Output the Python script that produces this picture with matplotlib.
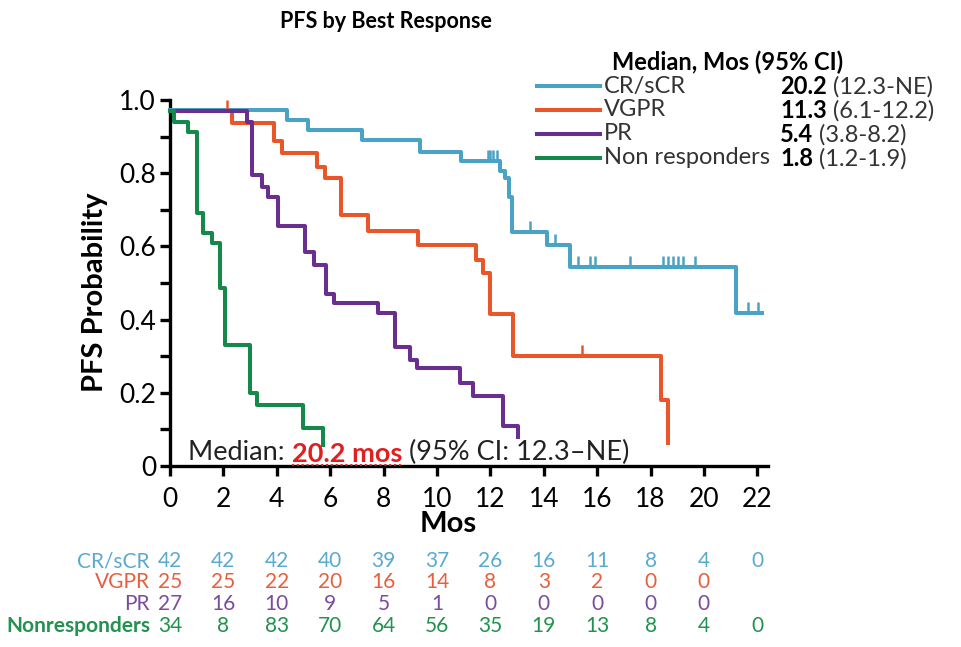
import numpy as np
import matplotlib
matplotlib.use("Agg")
import matplotlib.pyplot as plt
from matplotlib.lines import Line2D
from matplotlib.markers import TICKUP
from matplotlib import transforms

plt.rcParams["font.family"] = ["Lato", "DejaVu Sans"]

# KM curves (time in months, PFS probability)
cr_times = [0, 4.37, 5.18, 7.18, 9.36, 10.9, 12.36, 12.55, 12.68, 12.8, 14.13, 14.98, 21.22, 22.16]
cr_surv = [0.973, 0.945, 0.918, 0.89, 0.857, 0.834, 0.807, 0.788, 0.736, 0.638, 0.604, 0.545, 0.417, 0.417]
cr_cens = [11.9, 12.0, 12.1, 12.25, 13.48, 14.42, 15.29, 15.73, 15.92, 17.23,
           18.48, 18.66, 18.85, 19.04, 19.22, 19.66, 21.66, 22.03]

vgpr_times = [0, 2.31, 3.9, 4.2, 5.49, 5.8, 6.4, 7.43, 9.3, 11.45, 11.74, 11.99, 12.86, 18.4, 18.66]
vgpr_surv = [0.97, 0.936, 0.888, 0.856, 0.818, 0.787, 0.685, 0.642, 0.604, 0.563, 0.527, 0.415, 0.30, 0.18, 0.062]
vgpr_cens = [2.12, 15.42]

pr_times = [0, 2.87, 3.06, 3.43, 3.68, 4.06, 5.06, 5.4, 5.85, 6.15, 7.8, 8.43, 9.0, 9.24, 10.86, 11.36, 12.48, 13.04]
pr_surv = [0.97, 0.94, 0.795, 0.763, 0.735, 0.656, 0.586, 0.548, 0.47, 0.444, 0.417, 0.326, 0.29, 0.267,
           0.226, 0.19, 0.11, 0.08]

nr_times = [0, 0.15, 0.68, 1.0, 1.25, 1.56, 1.87, 2.05, 3.0, 3.25, 4.98, 5.73]
nr_surv = [0.97, 0.94, 0.913, 0.69, 0.636, 0.609, 0.486, 0.33, 0.2, 0.167, 0.104, 0.057]

groups = ["CR/sCR", "VGPR", "PR", "Non responders"]
medians = ["20.2", "11.3", "5.4", "1.8"]
cis = ["(12.3-NE)", "(6.1-12.2)", "(3.8-8.2)", "(1.2-1.9)"]

risk_labels = ["CR/sCR", "VGPR", "PR", "Nonresponders"]
risk_times = list(range(0, 23, 2))
cr_risk = [42, 42, 42, 40, 39, 37, 26, 16, 11, 8, 4, 0]
vgpr_risk = [25, 25, 22, 20, 16, 14, 8, 3, 2, 0, 0]
pr_risk = [27, 16, 10, 9, 5, 1, 0, 0, 0, 0, 0]
nr_risk = [34, 8, 83, 70, 64, 56, 35, 19, 13, 8, 4, 0]

colors = ["#4aa3c4", "#e8562a", "#6a2f8e", "#16894a"]
table_colors = ["#5aaad0", "#e4603f", "#7a4c9c", "#239250"]

W, H = 961, 647


def fx(px):
    return px / W


def fy(py):
    return 1 - py / H


fig = plt.figure(figsize=(W / 100, H / 100), dpi=100)
ax = fig.add_axes([fx(170), fy(466), (768 - 170) / W, (466 - 100) / H])

curves = [(cr_times, cr_surv, cr_cens), (vgpr_times, vgpr_surv, vgpr_cens),
          (pr_times, pr_surv, []), (nr_times, nr_surv, [])]
for (t, s, cens), c in zip(curves, colors):
    ax.step(t, s, where="post", color=c, lw=2.9, clip_on=False, zorder=3)
    if cens:
        idx = np.searchsorted(t, cens, side="right") - 1
        ax.plot(cens, np.array(s)[idx], ls="none", marker=TICKUP, ms=8, mew=1.8,
                color=c, clip_on=False, zorder=3)

ax.set_xlim(0, 22.4)
ax.set_ylim(0, 1.0)
for side in ["top", "right"]:
    ax.spines[side].set_visible(False)
for side in ["left", "bottom"]:
    ax.spines[side].set_linewidth(2.4)
ax.set_xticks(risk_times)
ax.set_yticks([0, 0.2, 0.4, 0.6, 0.8, 1.0])
ax.set_yticklabels(["0", "0.2", "0.4", "0.6", "0.8", "1.0"])
ax.set_yticks([0.1, 0.3, 0.5, 0.7, 0.9], minor=True)
ax.tick_params(which="both", direction="out", length=7, width=2.4, labelsize=19)
ax.tick_params(axis="y", pad=3)
ax.tick_params(axis="x", pad=8)

# title and axis labels
fig.text(fx(386), fy(22), "PFS by Best Response", ha="center", va="center",
         weight="bold", size=15.5)
fig.text(fx(95), fy(292), "PFS Probability", rotation=90, ha="center", va="center",
         weight="bold", size=21)
fig.text(fx(448), fy(524), "Mos", ha="center", va="center", weight="bold", size=21)

# legend with medians
fig.text(fx(612), fy(62), "Median, Mos (95% CI)", ha="left", va="center",
         weight="bold", size=17)
row_y = [86, 110, 134, 158]
for g, m, ci, c, y in zip(groups, medians, cis, colors, row_y):
    fig.add_artist(Line2D([fx(537), fx(600)], [fy(y), fy(y)], color=c, lw=2.9,
                          transform=fig.transFigure))
    fig.text(fx(604), fy(y), g, ha="left", va="center", size=17, color="#333333")
    tm = fig.text(fx(780), fy(y), m, ha="left", va="center", size=17, weight="bold")
    ax.annotate(" " + ci, xy=(1, 0), xycoords=tm, ha="left", va="bottom", size=17,
                color="#333333")

# median annotation
t1 = ax.text(fx(188), fy(453), "Median: ", transform=fig.transFigure, ha="left",
             va="center", size=19.5, color="#222222")
t2 = ax.annotate("20.2 mos", xy=(1, 0), xycoords=t1, ha="left", va="bottom",
                 size=19.5, color="#e02020", weight="bold")
ax.annotate(" (95% CI: 12.3\u2013NE)", xy=(1, 0), xycoords=t2, ha="left", va="bottom",
            size=19.5, color="#222222")

# number at risk table
blend = transforms.blended_transform_factory(ax.transData, fig.transFigure)
risk_rows = [cr_risk, vgpr_risk, pr_risk, nr_risk]
table_y = [561, 582, 604, 626]
for lab, vals, c, y in zip(risk_labels, risk_rows, table_colors, table_y):
    fig.text(fx(150), fy(y), lab, ha="right", va="center", size=15, color=c,
             weight="bold" if lab == "Nonresponders" else "normal")
    for t, v in zip(risk_times, vals):
        ax.text(t, fy(y), str(v), transform=blend, ha="center", va="center",
                size=15, color=c, clip_on=False)

fig.canvas.draw()
bb = t2.get_window_extent()
fig.add_artist(Line2D([bb.x0 / W, bb.x1 / W], [(bb.y0 + 1) / H] * 2, color="#e02020",
                      lw=1.4, ls=(0, (1, 1.5)), transform=fig.transFigure))

fig.savefig("out.png", dpi=100)
